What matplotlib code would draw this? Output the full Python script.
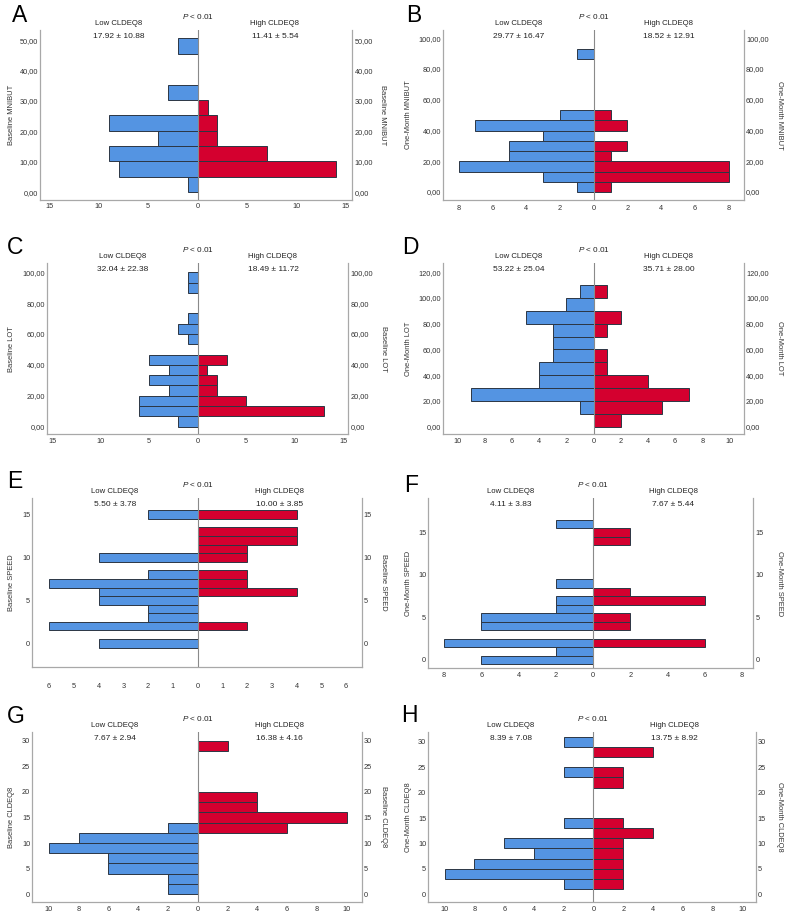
import matplotlib
matplotlib.use('Agg')
import matplotlib.pyplot as plt

plt.rcParams['font.family'] = ['Liberation Sans', 'DejaVu Sans']
plt.rcParams['mathtext.fontset'] = 'custom'
plt.rcParams['mathtext.rm'] = 'Liberation Sans'
plt.rcParams['mathtext.it'] = 'Liberation Sans:italic'

W, H = 788, 915
BLUE = '#5494e2'
RED = '#d4002f'
EDGE = '#2c3644'
GRAY = '#a8a8a8'

# A: Baseline MNIBUT
a_bins = [0, 5.06, 10.12, 15.18, 20.24, 25.3, 30.36, 35.42, 40.48, 45.54]
a_low = [1, 8, 9, 4, 9, 0, 3, 0, 0, 2]
a_high = [0, 14, 7, 2, 2, 1, 0, 0, 0, 0]

# B: One-Month MNIBUT
b_bins = [0, 6.67, 13.33, 20, 26.67, 33.33, 40, 46.67, 53.33, 60, 66.67, 73.33, 80, 86.67]
b_low = [1, 3, 8, 5, 5, 3, 7, 2, 0, 0, 0, 0, 0, 1]
b_high = [1, 8, 8, 1, 2, 0, 2, 1, 0, 0, 0, 0, 0, 0]

# C: Baseline LOT
c_bins = [0, 6.67, 13.33, 20, 26.67, 33.33, 40, 46.67, 53.33, 60, 66.67, 73.33, 80, 86.67, 93.33]
c_low = [2, 6, 6, 3, 5, 3, 5, 0, 1, 2, 1, 0, 0, 1, 1]
c_high = [0, 13, 5, 2, 2, 1, 3, 0, 0, 0, 0, 0, 0, 0, 0]

# D: One-Month LOT
d_bins = [0, 10, 20, 30, 40, 50, 60, 70, 80, 90, 100]
d_low = [0, 1, 9, 4, 4, 3, 3, 3, 5, 2, 1]
d_high = [2, 5, 7, 4, 1, 1, 0, 1, 2, 0, 1]

# E: Baseline SPEED
e_bins = [-0.5, 0.5, 1.5, 2.5, 3.5, 4.5, 5.5, 6.5, 7.5, 8.5, 9.5, 10.5, 11.5, 12.5, 13.5, 14.5]
e_low = [4, 0, 6, 2, 2, 4, 4, 6, 2, 0, 4, 0, 0, 0, 0, 2]
e_high = [0, 0, 2, 0, 0, 0, 4, 2, 2, 0, 2, 2, 4, 4, 0, 4]

# F: One-Month SPEED
f_bins = [-0.5, 0.5, 1.5, 2.5, 3.5, 4.5, 5.5, 6.5, 7.5, 8.5, 9.5, 10.5, 11.5, 12.5, 13.5, 14.5, 15.5]
f_low = [6, 2, 8, 0, 6, 6, 2, 2, 0, 2, 0, 0, 0, 0, 0, 0, 2]
f_high = [0, 0, 6, 0, 2, 2, 0, 6, 2, 0, 0, 0, 0, 0, 2, 2, 0]

# G: Baseline CLDEQ8
g_bins = [0, 2, 4, 6, 8, 10, 12, 14, 16, 18, 20, 22, 24, 26, 28]
g_low = [2, 2, 6, 6, 10, 8, 2, 0, 0, 0, 0, 0, 0, 0, 0]
g_high = [0, 0, 0, 0, 0, 0, 6, 10, 4, 4, 0, 0, 0, 0, 2]

# H: One-Month CLDEQ8
h_bins = [1, 3, 5, 7, 9, 11, 13, 15, 17, 19, 21, 23, 25, 27, 29]
h_low = [2, 10, 8, 4, 6, 0, 2, 0, 0, 0, 0, 2, 0, 0, 2]
h_high = [2, 2, 2, 2, 2, 4, 2, 0, 0, 0, 2, 2, 0, 4, 0]

letters = ['A', 'B', 'C', 'D', 'E', 'F', 'G', 'H']
ylabels = ['Baseline MNIBUT', 'One-Month MNIBUT', 'Baseline LOT', 'One-Month LOT',
           'Baseline SPEED', 'One-Month SPEED', 'Baseline CLDEQ8', 'One-Month CLDEQ8']
low_stats = ['17.92 ± 10.88', '29.77 ± 16.47', '32.04 ± 22.38', '53.22 ± 25.04',
             '5.50 ± 3.78', '4.11 ± 3.83', '7.67 ± 2.94', '8.39 ± 7.08']
high_stats = ['11.41 ± 5.54', '18.52 ± 12.91', '18.49 ± 11.72', '35.71 ± 28.00',
              '10.00 ± 3.85', '7.67 ± 5.44', '16.38 ± 4.16', '13.75 ± 8.92']
bins = [a_bins, b_bins, c_bins, d_bins, e_bins, f_bins, g_bins, h_bins]
widths = [5.06, 6.67, 6.67, 10, 1, 1, 2, 2]
lows = [a_low, b_low, c_low, d_low, e_low, f_low, g_low, h_low]
highs = [a_high, b_high, c_high, d_high, e_high, f_high, g_high, h_high]
xmax = [15, 8, 15, 10, 6, 8, 10, 10]
xstep = [5, 2, 5, 2, 1, 2, 2, 2]
ymax = [50, 100, 100, 120, 15, 15, 30, 30]
ystep = [10, 20, 20, 20, 5, 5, 5, 5]
comma_fmt = [True, True, True, True, False, False, False, False]

# layout in pixels: left, right, top, bottom, xlim, ylim
boxes = [
    (40, 352.3, 30, 200, (-15.94, 15.64), (-2.6, 53.4)),
    (443.3, 744, 30, 200, (-8.9, 8.9), (-5.2, 105.4)),
    (47.3, 348.3, 263.3, 434, (-15.5, 15.53), (-4.75, 105.8)),
    (443.3, 744, 263.3, 434, (-11.07, 11.07), (-5.7, 127)),
    (32.3, 361.7, 498.3, 667.3, (-6.68, 6.63), (-2.8, 16.9)),
    (428.3, 753.3, 498.3, 668.3, (-8.85, 8.6), (-0.98, 19.0)),
    (32.3, 361.7, 731.7, 902.3, (-11.1, 11.0), (-1.6, 31.8)),
    (428.3, 755.7, 731.7, 902.3, (-11.1, 10.9), (-1.6, 32)),
]
ylab_x = [(12, 382.7), (408, 779), (12, 383.3), (408, 779.7),
          (12, 383.3), (408, 779.7), (12, 383.3), (408, 779.7)]
letter_pos = [(11.7, 15), (405.7, 15), (6.7, 248), (402, 247),
              (6.7, 481.5), (404, 486), (6.7, 716.5), (401, 716)]
xpad = [2.5, 3.5, 3.0, 3.0, 11.0, 3.0, 2.5, 2.5]

fig = plt.figure(figsize=(W / 100, H / 100), dpi=100)

for i in range(8):
    l, r, t, b, xl, yl = boxes[i]
    ax = fig.add_axes([l / W, 1 - b / H, (r - l) / W, (b - t) / H])
    w = widths[i]
    lb = [y for y, v in zip(bins[i], lows[i]) if v > 0]
    lv = [-v for v in lows[i] if v > 0]
    hb = [y for y, v in zip(bins[i], highs[i]) if v > 0]
    hv = [v for v in highs[i] if v > 0]
    ax.barh(lb, lv, height=w, align='edge', color=BLUE, edgecolor=EDGE, linewidth=0.7, zorder=2)
    ax.barh(hb, hv, height=w, align='edge', color=RED, edgecolor=EDGE, linewidth=0.7, zorder=2)
    ax.axvline(0, color='#8a8a8a', linewidth=0.8, zorder=3)
    ax.set_xlim(*xl)
    ax.set_ylim(*yl)

    xt = list(range(-xmax[i], xmax[i] + 1, xstep[i]))
    ax.set_xticks(xt)
    ax.set_xticklabels([str(abs(v)) for v in xt])
    yt = list(range(0, ymax[i] + 1, ystep[i]))
    ax.set_yticks(yt)
    if comma_fmt[i]:
        ax.set_yticklabels([f'{v:.2f}'.replace('.', ',') for v in yt])
    else:
        ax.set_yticklabels([str(v) for v in yt])
    ax.tick_params(axis='y', length=0, labelsize=5.3, labelcolor='#333333',
                   labelleft=True, labelright=True, pad=1.5)
    ax.tick_params(axis='x', length=0, labelsize=5.3, labelcolor='#333333', pad=xpad[i])

    ax.spines['top'].set_visible(False)
    for s in ['left', 'right', 'bottom']:
        ax.spines[s].set_color(GRAY)
        ax.spines[s].set_linewidth(0.9)

    coords = ('data', 'axes fraction')
    ax.annotate('$P$ < 0.01', xy=(0, 1), xycoords=coords, xytext=(0, 9.7),
                textcoords='offset points', ha='center', va='center', fontsize=5.9, color='#222222')
    ax.annotate('Low CLDEQ8', xy=(xl[0] / 2, 1), xycoords=coords, xytext=(0, 4.7),
                textcoords='offset points', ha='center', va='center', fontsize=5.6, color='#222222')
    ax.annotate('High CLDEQ8', xy=(xl[1] / 2, 1), xycoords=coords, xytext=(0, 4.7),
                textcoords='offset points', ha='center', va='center', fontsize=5.6, color='#222222')
    ax.annotate(low_stats[i], xy=(xl[0] / 2, 1), xycoords=coords, xytext=(0, -4.7),
                textcoords='offset points', ha='center', va='center', fontsize=6, color='#222222')
    ax.annotate(high_stats[i], xy=(xl[1] / 2, 1), xycoords=coords, xytext=(0, -4.7),
                textcoords='offset points', ha='center', va='center', fontsize=6, color='#222222')

    yc = 1 - (t + b) / 2 / H
    fig.text(ylab_x[i][0] / W, yc, ylabels[i], rotation=90, ha='center', va='center',
             fontsize=5.4, color='#333333')
    fig.text(ylab_x[i][1] / W, yc, ylabels[i], rotation=270, ha='center', va='center',
             fontsize=5.4, color='#333333')
    fig.text(letter_pos[i][0] / W, 1 - letter_pos[i][1] / H, letters[i], ha='left', va='center',
             fontsize=16.5, color='black')

fig.savefig('out.png', dpi=100)
